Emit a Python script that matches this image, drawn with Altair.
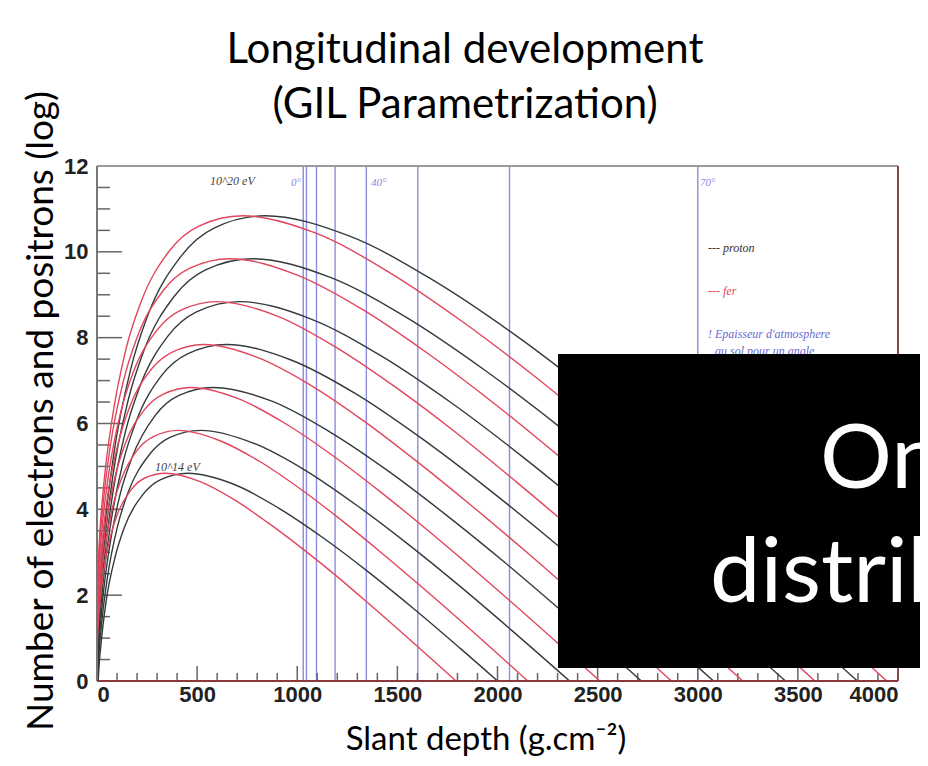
import altair as alt
import pandas as pd

# ---------------- data ----------------
ENERGIES = ["1e14", "1e15", "1e16", "1e17", "1e18", "1e19", "1e20"]

# proton (black) curves: slant depth (g/cm2) and log10(N)
P14_X = [0, 9, 23, 45, 91, 136, 227, 318, 454, 680, 907, 1134, 1361, 1588, 1814, 2268]
P14_Y = [-0.53, 0.27, 1.00, 1.84, 2.90, 3.57, 4.33, 4.69, 4.84, 4.59, 4.03, 3.32, 2.52, 1.66, 0.76, -1.11]
P15_X = [0, 10, 26, 52, 104, 155, 259, 362, 518, 777, 1036, 1295, 1553, 1812, 2071, 2589]
P15_Y = [-0.29, 0.63, 1.46, 2.41, 3.63, 4.39, 5.26, 5.67, 5.84, 5.55, 4.92, 4.10, 3.19, 2.21, 1.18, -0.95]
P16_X = [0, 12, 29, 58, 116, 175, 291, 407, 582, 873, 1164, 1455, 1746, 2037, 2328, 2911]
P16_Y = [-0.05, 0.98, 1.92, 2.99, 4.36, 5.21, 6.19, 6.65, 6.84, 6.52, 5.80, 4.89, 3.86, 2.76, 1.60, -0.80]
P17_X = [0, 13, 32, 65, 129, 194, 323, 452, 646, 969, 1293, 1616, 1939, 2262, 2585, 3232]
P17_Y = [0.19, 1.33, 2.37, 3.56, 5.08, 6.03, 7.12, 7.62, 7.84, 7.48, 6.69, 5.67, 4.53, 3.31, 2.03, -0.64]
P18_X = [0, 14, 36, 71, 142, 213, 355, 497, 711, 1066, 1421, 1776, 2132, 2487, 2842, 3553]
P18_Y = [0.43, 1.69, 2.83, 4.14, 5.81, 6.85, 8.04, 8.60, 8.84, 8.44, 7.57, 6.46, 5.20, 3.85, 2.45, -0.48]
P19_X = [0, 15, 39, 77, 155, 232, 387, 542, 775, 1162, 1549, 1937, 2324, 2711, 3099, 3874]
P19_Y = [0.67, 2.04, 3.28, 4.71, 6.53, 7.67, 8.97, 9.58, 9.84, 9.41, 8.46, 7.24, 5.87, 4.40, 2.87, -0.32]
P20_X = [0, 17, 42, 84, 168, 252, 420, 587, 839, 1259, 1678, 2098, 2517, 2937, 3356, 4195]
P20_Y = [0.91, 2.40, 3.74, 5.29, 7.26, 8.50, 9.90, 10.56, 10.84, 10.37, 9.34, 8.03, 6.54, 4.95, 3.29, -0.16]

# iron ("fer", red) curves
FE14_X = [0, 7, 17, 34, 68, 102, 171, 239, 341, 512, 683, 853, 1024, 1195, 1365, 1707, 2048]
FE14_Y = [0.80, 1.40, 1.95, 2.58, 3.38, 3.89, 4.46, 4.73, 4.84, 4.65, 4.23, 3.69, 3.09, 2.45, 1.77, 0.36, -1.09]
FE15_X = [0, 8, 20, 41, 81, 122, 203, 284, 406, 608, 811, 1014, 1217, 1420, 1622, 2028, 2434]
FE15_Y = [1.04, 1.76, 2.41, 3.16, 4.11, 4.71, 5.39, 5.70, 5.84, 5.61, 5.12, 4.48, 3.76, 2.99, 2.19, 0.52, -1.21]
FE16_X = [0, 9, 23, 47, 94, 141, 235, 329, 470, 705, 940, 1175, 1409, 1644, 1879, 2349, 2819]
FE16_Y = [1.28, 2.11, 2.87, 3.73, 4.83, 5.53, 6.31, 6.68, 6.84, 6.58, 6.00, 5.26, 4.43, 3.54, 2.61, 0.68, -1.32]
FE17_X = [0, 11, 27, 53, 107, 160, 267, 374, 534, 801, 1068, 1335, 1602, 1869, 2136, 2670, 3204]
FE17_Y = [1.52, 2.47, 3.32, 4.31, 5.56, 6.35, 7.24, 7.66, 7.84, 7.54, 6.89, 6.05, 5.10, 4.09, 3.04, 0.84, -1.44]
FE18_X = [0, 12, 30, 60, 120, 179, 299, 419, 598, 897, 1196, 1496, 1795, 2094, 2393, 2991, 3589]
FE18_Y = [1.76, 2.82, 3.78, 4.88, 6.29, 7.17, 8.17, 8.64, 8.84, 8.51, 7.77, 6.83, 5.78, 4.64, 3.46, 0.99, -1.55]
FE19_X = [0, 13, 33, 66, 133, 199, 331, 464, 663, 994, 1325, 1656, 1988, 2319, 2650, 3313, 3975]
FE19_Y = [2.00, 3.17, 4.24, 5.46, 7.01, 7.99, 9.10, 9.62, 9.84, 9.47, 8.66, 7.62, 6.45, 5.19, 3.88, 1.15, -1.67]
FE20_X = [0, 15, 36, 73, 145, 218, 363, 509, 727, 1090, 1453, 1817, 2180, 2543, 2907, 3634, 4360]
FE20_Y = [2.24, 3.53, 4.69, 6.03, 7.74, 8.81, 10.03, 10.60, 10.84, 10.44, 9.54, 8.40, 7.12, 5.74, 4.30, 1.31, -1.78]

# ground-level slant depth for each zenith angle (blue vertical lines)
ANGLE_DEPTHS = [1030, 1046, 1096, 1189, 1345, 1602, 2060, 3000]

X_LABELS = [0, 500, 1000, 1500, 2000, 2500, 3000, 3500, 4000]
X_MINOR = [v for v in range(0, 4001, 100) if v % 500 != 0]
Y_LABELS = [0, 2, 4, 6, 8, 10, 12]
Y_MINOR = [0.5, 1, 1.5, 2.5, 3, 3.5, 4.5, 5, 5.5, 6.5, 7, 7.5, 8.5, 9, 9.5, 10.5, 11, 11.5]

TITLE_1 = "Longitudinal development"
TITLE_2 = "(GIL Parametrization)"
Y_TITLE = "Number of electrons and positrons (log)"
X_TITLE = "Slant depth (g.cm\u207b\u00b2)"

# ---------------- build tables ----------------
proton = [P14_X, P14_Y, P15_X, P15_Y, P16_X, P16_Y, P17_X, P17_Y, P18_X, P18_Y, P19_X, P19_Y, P20_X, P20_Y]
iron = [FE14_X, FE14_Y, FE15_X, FE15_Y, FE16_X, FE16_Y, FE17_X, FE17_Y, FE18_X, FE18_Y, FE19_X, FE19_Y, FE20_X, FE20_Y]
rows = []
for name, lists in (("proton", proton), ("fer", iron)):
    for k, e in enumerate(ENERGIES):
        xs_, ys_ = lists[2 * k], lists[2 * k + 1]
        for xv, yv in zip(xs_, ys_):
            rows.append({"X": xv, "Y": yv, "particle": name, "curve": name + e})
curves = pd.DataFrame(rows)

W, H = 801, 515
xscale = alt.Scale(domain=[0, 4000], nice=False, zero=False)
yscale = alt.Scale(domain=[0, 12], nice=False, zero=False)
xaxis = alt.Axis(values=X_LABELS, format="d", title=None, ticks=False, tickSize=0, domain=False, grid=False,
                 labelFont="Liberation Sans", labelFontWeight="bold", labelFontSize=22,
                 labelColor="#222222", labelPadding=3)
yaxis = alt.Axis(values=Y_LABELS, format="d", title=None, ticks=False, tickSize=0, domain=False, grid=False,
                 labelFont="Liberation Sans", labelFontWeight="bold", labelFontSize=22,
                 labelColor="#222222", labelPadding=9, labelFlush=False)
XE = alt.X("X:Q", scale=xscale, axis=xaxis)
YE = alt.Y("Y:Q", scale=yscale, axis=yaxis)

one = pd.DataFrame({"a": [0]})

angle_lines = alt.Chart(pd.DataFrame({"X": ANGLE_DEPTHS})).mark_rule(
    color="#8c8ce0", strokeWidth=1.4, clip=True).encode(x=XE)

y_major = alt.Chart(pd.DataFrame({"Y": Y_LABELS})).mark_rule(color="#666666", strokeWidth=1.5).encode(
    y=YE, x=alt.value(0), x2=alt.value(25))
y_minor = alt.Chart(pd.DataFrame({"Y": Y_MINOR})).mark_rule(color="#666666", strokeWidth=1.5).encode(
    y=YE, x=alt.value(0), x2=alt.value(13))
x_major = alt.Chart(pd.DataFrame({"X": X_LABELS})).mark_rule(color="#666666", strokeWidth=1.5).encode(
    x=XE, y=alt.value(H), y2=alt.value(H - 15))
x_minor = alt.Chart(pd.DataFrame({"X": X_MINOR})).mark_rule(color="#666666", strokeWidth=1.5).encode(
    x=XE, y=alt.value(H), y2=alt.value(H - 8))

lines = alt.Chart(curves).mark_line(clip=True, interpolate="monotone", strokeWidth=1.4).encode(
    x=XE, y=YE,
    color=alt.Color("particle:N", scale=alt.Scale(domain=["proton", "fer"], range=["#333b3b", "#e2455c"]),
                    legend=None),
    detail="curve:N",
)

frame_top = alt.Chart(one).mark_rule(color="#9a9a9a", strokeWidth=2).encode(
    x=alt.value(0), x2=alt.value(W), y=alt.value(0))
frame_left = alt.Chart(one).mark_rule(color="#777777", strokeWidth=2).encode(
    x=alt.value(0), y=alt.value(0), y2=alt.value(H))
frame_right = alt.Chart(one).mark_rule(color="#8a4a4a", strokeWidth=2).encode(
    x=alt.value(W), y=alt.value(0), y2=alt.value(H))
frame_bottom = alt.Chart(one).mark_rule(color="#8a3a3a", strokeWidth=2).encode(
    x=alt.value(0), x2=alt.value(W), y=alt.value(H))


def label(text, x, y, size=11, color="#444444", align="left", baseline="middle", font="Liberation Serif",
          style="italic", weight="normal", angle=0):
    kw = dict(text=text, font=font, fontSize=size, color=color, align=align, baseline=baseline,
              fontStyle=style, fontWeight=weight)
    if angle:
        kw["angle"] = angle
    return alt.Chart(one).mark_text(**kw).encode(x=alt.value(x), y=alt.value(y))


annotations = [
    label("0\u00b0", 204, 17, color="#8a8ae0", align="right"),
    label("40\u00b0", 274, 17, color="#8a8ae0"),
    label("70\u00b0", 603, 17, color="#8a8ae0"),
    label("10^20 eV", 113, 15, size=12),
    label("10^14 eV", 58, 301, size=12),
    label("--- proton", 611, 82, size=12, color="#333333"),
    label("--- fer", 611, 125, size=12, color="#e2455c"),
    label("! Epaisseur d'atmosphere", 611, 168, size=12, color="#6a6ad0"),
    label("au sol pour un angle", 618, 185, size=12, color="#6a6ad0"),
]

box = alt.Chart(one).mark_rect(color="black").encode(
    x=alt.value(461), x2=alt.value(840), y=alt.value(188), y2=alt.value(502))
box_text = [
    label("On", 723, 322, size=90, color="white", baseline="alphabetic", font="Lato", style="normal"),
    label("distrib", 613, 436, size=90, color="white", baseline="alphabetic", font="Lato", style="normal"),
]

titles = [
    label(TITLE_1, 368, -103, size=42, color="black", align="center", baseline="alphabetic", font="Lato",
          style="normal"),
    label(TITLE_2, 368, -48, size=42, color="black", align="center", baseline="alphabetic", font="Lato",
          style="normal"),
    label(Y_TITLE, -44, 245, size=37, color="black", align="center", baseline="alphabetic", font="Lato",
          style="normal", angle=270),
    label(X_TITLE, 389, 584, size=33, color="black", align="center", baseline="alphabetic", font="Lato",
          style="normal"),
]

chart = alt.layer(
    angle_lines, y_major, y_minor, x_major, x_minor, lines,
    frame_top, frame_left, frame_right, frame_bottom,
    *annotations, box, *box_text, *titles,
).properties(
    width=W, height=H,
    autosize=alt.AutoSizeParams(type="none"),
    padding={"left": 89, "top": 158, "right": 22, "bottom": 77},
    background="white",
).configure_view(stroke=None)

chart.save("out.html", embed_options={"renderer": "svg", "actions": False})
